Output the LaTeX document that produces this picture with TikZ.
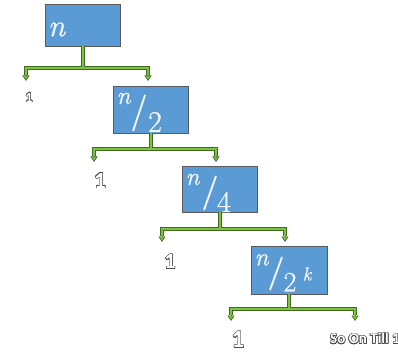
\documentclass[tikz,border=0pt]{standalone}
\usepackage{fontspec}
\usepackage{contour}
\usetikzlibrary{arrows.meta}
\newfontfamily\labelfont{Carlito}
\newfontfamily\boxfont{Latin Modern Roman}[FakeBold=0.9]
\definecolor{boxblue}{HTML}{5B9BD5}
\definecolor{boxedge}{HTML}{5A5A5A}
\definecolor{lgreen}{HTML}{7DC242}
\definecolor{dgreen}{HTML}{3F6A22}
\definecolor{numedge}{HTML}{4A4A4A}
\definecolor{mathwhite}{HTML}{F4F4F4}
\contourlength{0.55pt}
\newcommand{\outl}[1]{\contour{numedge}{\textcolor{white}{#1}}}
\begin{document}
\begin{tikzpicture}[x=1pt,y=-1pt,
  box/.style={draw=boxedge, fill=boxblue, line width=0.9pt, inner sep=0pt, outer sep=0pt, anchor=north west},
  cdark/.style={draw=dgreen, line width=4pt},
  clight/.style={draw=lgreen, line width=2pt},
  tipst/.style={-{Triangle[length=5.5pt,width=7pt,fill=lgreen]}, draw=dgreen, line width=0.7pt},
  mtext/.style={text=mathwhite, inner sep=0pt},
  slash/.style={draw=mathwhite, line width=1.9pt},
  num/.style={inner sep=0pt}]
\useasboundingbox (0,0) rectangle (398,355);
\fill[white] (0,0) rectangle (398,355);
% boxes
\node[box, minimum width=75pt, minimum height=42pt] (b1) at (45,4) {};
\node[box, minimum width=75pt, minimum height=47pt] (b2) at (113,86) {};
\node[box, minimum width=75pt, minimum height=46pt] (b3) at (182,166) {};
\node[box, minimum width=76pt, minimum height=48pt] (b4) at (251,246) {};
% box texts
\node[mtext, font=\boxfont\itshape\fontsize{31}{33}\selectfont] (m1) at (56.5,29.5) {n};
\node[mtext, font=\boxfont\itshape\fontsize{25}{27}\selectfont] (m2n) at (123.5,98.5) {n};
\draw[slash] (145,95) -- (133,131);
\node[mtext, font=\boxfont\fontsize{30}{32}\selectfont] (m2d) at (155,122) {2};
\node[mtext, font=\boxfont\itshape\fontsize{25}{27}\selectfont] (m3n) at (192.5,179.5) {n};
\draw[slash] (216,176) -- (204,210);
\node[mtext, font=\boxfont\fontsize{30}{32}\selectfont] (m3d) at (224,202) {4};
\node[mtext, font=\boxfont\itshape\fontsize{25}{27}\selectfont] (m4n) at (261.5,260) {n};
\draw[slash] (282,257) -- (270,290);
\node[mtext, font=\boxfont\fontsize{28}{30}\selectfont] (m4d) at (290,282) {2};
\node[mtext, font=\boxfont\itshape\fontsize{19}{21}\selectfont] (m4k) at (307,274) {k};
% connector coordinates
\coordinate (j1) at (82.5,68);
\coordinate (a1) at (26,75);   \coordinate (t1a) at (26,81);
\coordinate (c1) at (148,75);  \coordinate (t1c) at (148,81);
\coordinate (j2) at (150.5,149);
\coordinate (a2) at (94,156);  \coordinate (t2a) at (94,162);
\coordinate (c2) at (216,156); \coordinate (t2c) at (216,162);
\coordinate (j3) at (219.5,229);
\coordinate (a3) at (162,236); \coordinate (t3a) at (162,242);
\coordinate (c3) at (285,236); \coordinate (t3c) at (285,242);
\coordinate (j4) at (289,309);
\coordinate (a4) at (231,315); \coordinate (t4a) at (231,321);
\coordinate (c4) at (355,315); \coordinate (t4c) at (355,321);
% dark outline layer
\foreach \i in {1,2,3,4}{
  \draw[cdark] (b\i.south) -- (j\i);
  \draw[cdark] (a\i) |- (j\i) -| (c\i);
}
% green layer
\foreach \i in {1,2,3,4}{
  \draw[clight] (b\i.south) -- (j\i);
  \draw[clight] (a\i) |- (j\i) -| (c\i);
}
% tips
\foreach \i in {1,2,3,4}{
  \draw[tipst] (a\i) -- (t\i a);
  \draw[tipst] (c\i) -- (t\i c);
}
% labels
\node[num, font=\labelfont\bfseries\fontsize{14}{15}\selectfont] (n1) at (29,98) {\outl{1}};
\node[num, font=\labelfont\bfseries\fontsize{23}{25}\selectfont] (n2) at (100,181) {\outl{1}};
\node[num, font=\labelfont\bfseries\fontsize{22}{24}\selectfont] (n3) at (170,262) {\outl{1}};
\node[num, font=\labelfont\bfseries\fontsize{25}{27}\selectfont] (n4) at (238,340) {\outl{1}};
\node[num, anchor=west, font=\labelfont\bfseries\fontsize{15}{16}\selectfont] (so) at (330,339) {\outl{So On Till 1}};
\end{tikzpicture}
\end{document}
